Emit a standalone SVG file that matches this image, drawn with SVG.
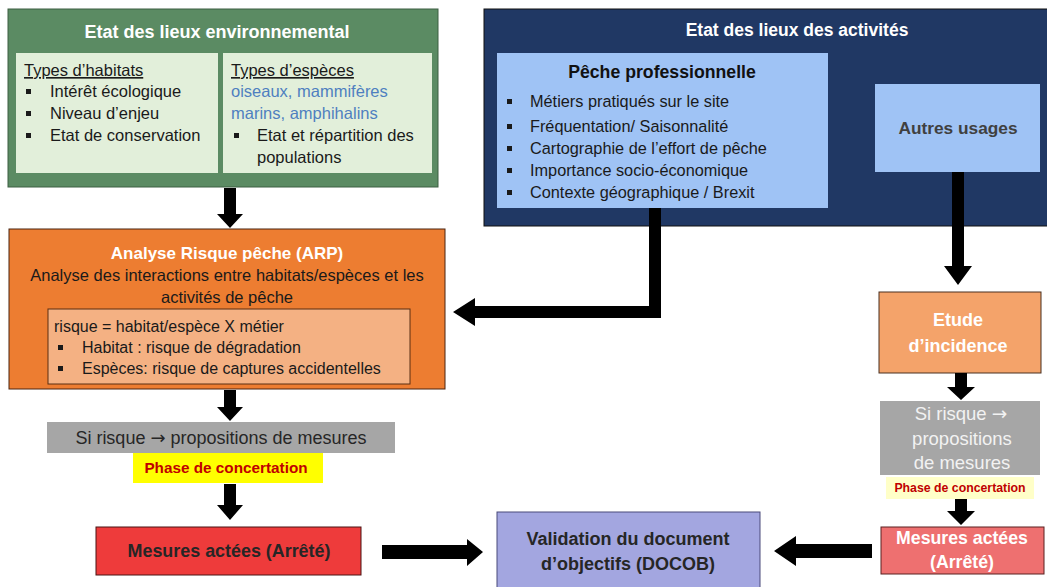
<svg xmlns="http://www.w3.org/2000/svg" width="1047" height="587" viewBox="0 0 1047 587">
<style>
text{font-family:"Liberation Sans",Arial,sans-serif;}
.t{font-size:16.5px;fill:#1a1a1a;}
.s{font-size:16.3px;fill:#1a1a1a;}
.u{font-size:16px;fill:#1a1a1a;}
.b{font-weight:bold;}
.c{text-anchor:middle;}
.w{fill:#ffffff;}
.bl{fill:#1a1a1a;}
.arr{fill:#000000;}
.ar{font-family:"DejaVu Sans",sans-serif;}
</style>
<rect width="1047" height="587" fill="#ffffff"/>
<g id="env">
<rect x="8" y="9" width="430" height="178" fill="#5B8B63" stroke="#3d5e42" stroke-width="1"/>
<text x="217" y="38" class="b c w" font-size="18px">Etat des lieux environnemental</text>
<rect x="16" y="53" width="202" height="120" fill="#E2EFDA"/>
<rect x="223" y="53" width="209" height="120" fill="#E2EFDA"/>
<text x="24" y="76" class="t" text-decoration="underline">Types d’habitats</text>
<rect x="26" y="89" width="5" height="5" class="bl"/>
<rect x="26" y="111" width="5" height="5" class="bl"/>
<rect x="26" y="133" width="5" height="5" class="bl"/>
<text x="50" y="97" class="t">Intérêt écologique</text>
<text x="50" y="119" class="t">Niveau d’enjeu</text>
<text x="50" y="141" class="t">Etat de conservation</text>
<text x="231" y="76" class="t" text-decoration="underline">Types d’espèces</text>
<text x="231" y="97" class="t" style="fill:#4F7FC0">oiseaux, mammifères</text>
<text x="231" y="119" class="t" style="fill:#4F7FC0">marins, amphihalins</text>
<rect x="234" y="133" width="5" height="5" class="bl"/>
<text x="257" y="141" class="t">Etat et répartition des</text>
<text x="257" y="163" class="t">populations</text>
</g>
<g id="act">
<rect x="484" y="9" width="570" height="217" fill="#203864" stroke="#111" stroke-width="1"/>
<text x="797" y="36" class="b c w" font-size="17.5px">Etat des lieux des activités</text>
</g>
<g id="peche">
<rect x="497" y="53" width="331" height="155" fill="#9FC3F5"/>
<text x="662" y="78" class="b c" font-size="17.7px" fill="#111">Pêche professionnelle</text>
<rect x="507" y="99" width="5" height="5" class="bl"/>
<rect x="507" y="124" width="5" height="5" class="bl"/>
<rect x="507" y="146" width="5" height="5" class="bl"/>
<rect x="507" y="168" width="5" height="5" class="bl"/>
<rect x="507" y="190" width="5" height="5" class="bl"/>
<text x="530" y="107" class="s">Métiers pratiqués sur le site</text>
<text x="530" y="132" class="s">Fréquentation/ Saisonnalité</text>
<text x="530" y="154" class="s">Cartographie de l’effort de pêche</text>
<text x="530" y="176" class="s">Importance socio-économique</text>
<text x="530" y="198" class="s">Contexte géographique / Brexit</text>
</g>
<g id="autres">
<rect x="875" y="84" width="165" height="88" fill="#9FC3F5"/>
<text x="958" y="134" class="b c" font-size="17.3px" fill="#404040">Autres usages</text>
</g>
<g id="arp">
<rect x="9" y="229" width="436" height="160" fill="#ED7D31" stroke="#4a2410" stroke-width="1"/>
<text x="227" y="259" class="b c w" font-size="17px">Analyse Risque pêche (ARP)</text>
<text x="227" y="281" class="t c">Analyse des interactions entre habitats/espèces et les</text>
<text x="227" y="303" class="t c">activités de pêche</text>
<rect x="48" y="309" width="362" height="75" fill="#F4B183" stroke="#5a2e12" stroke-width="1"/>
<text x="54" y="332" class="u">risque = habitat/espèce X métier</text>
<rect x="58" y="345" width="5" height="5" class="bl"/>
<rect x="58" y="366" width="5" height="5" class="bl"/>
<text x="82" y="353" class="u">Habitat : risque de dégradation</text>
<text x="82" y="374" class="u">Espèces: risque de captures accidentelles</text>
</g>
<g id="prop1">
<rect x="47" y="422" width="348" height="31" fill="#A6A6A6"/>
<text x="221" y="444" class="c" font-size="18px" fill="#262626">Si risque <tspan class="ar">→</tspan> propositions de mesures</text>
</g>
<g id="conc1">
<rect x="133" y="453" width="190" height="30" fill="#FFFF00"/>
<text x="226" y="473" class="b c" font-size="15.3px" fill="#C00000">Phase de concertation</text>
</g>
<g id="mes1">
<rect x="96" y="527" width="265" height="48" fill="#EE3B3B" stroke="#4a1515" stroke-width="1"/>
<text x="229" y="557" class="b c" font-size="17.9px" fill="#262626">Mesures actées (Arrêté)</text>
</g>
<g id="valid">
<rect x="497" y="512" width="263" height="76" fill="#A3A6E0" stroke="#4a4a7a" stroke-width="1"/>
<text x="628" y="545" class="b c" font-size="18px" fill="#262626">Validation du document</text>
<text x="628" y="570" class="b c" font-size="18px" fill="#262626">d’objectifs (DOCOB)</text>
</g>
<g id="etude">
<rect x="879" y="292" width="162" height="81" fill="#F4A36A" stroke="#4a3020" stroke-width="1"/>
<text x="958" y="326" class="b c w" font-size="18px">Etude</text>
<text x="958" y="352" class="b c w" font-size="18px">d’incidence</text>
</g>
<g id="prop2">
<rect x="880" y="401" width="160" height="74" fill="#A6A6A6"/>
<text x="961" y="420" class="c" font-size="18.5px" fill="#F2F2F2">Si risque <tspan class="ar">→</tspan></text>
<text x="962" y="445" class="c" font-size="18.5px" fill="#F2F2F2">propositions</text>
<text x="962" y="469" class="c" font-size="18.5px" fill="#F2F2F2">de mesures</text>
</g>
<g id="conc2">
<rect x="886" y="477" width="148" height="22" fill="#FFFFC8"/>
<text x="960" y="492" class="b c" font-size="12.3px" fill="#C00000">Phase de concertation</text>
</g>
<g id="mes2">
<rect x="881" y="527" width="163" height="47" fill="#EE7070" stroke="#5a2020" stroke-width="1"/>
<text x="962" y="544" class="b c w" font-size="17.7px">Mesures actées</text>
<text x="962" y="568" class="b c w" font-size="17.7px">(Arrêté)</text>
</g>
<g id="connectors" class="arr">
<polygon points="224,188 236,188 236,214 243,214 230,228 217,214 224,214"/>
<polygon points="224,390 236,390 236,407 243,407 230,421 217,407 224,407"/>
<polygon points="224,484 236,484 236,505 243,505 230,520 217,505 224,505"/>
<polygon points="382,545 467,545 467,539 483,552 467,566 467,559 382,559"/>
<polygon points="872,544 796,544 796,536 774,551 796,566 796,558 872,558"/>
<polygon points="649,208 661,208 661,318 475,318 475,326 453,312 475,298 475,306 649,306"/>
<polygon points="952,172 964,172 964,266 972,266 958,285 944,266 952,266"/>
<polygon points="955,373 967,373 967,387 975,387 961,400 947,387 955,387"/>
<polygon points="955,499 967,499 967,511 975,511 961,525 947,511 955,511"/>
</g>
</svg>
